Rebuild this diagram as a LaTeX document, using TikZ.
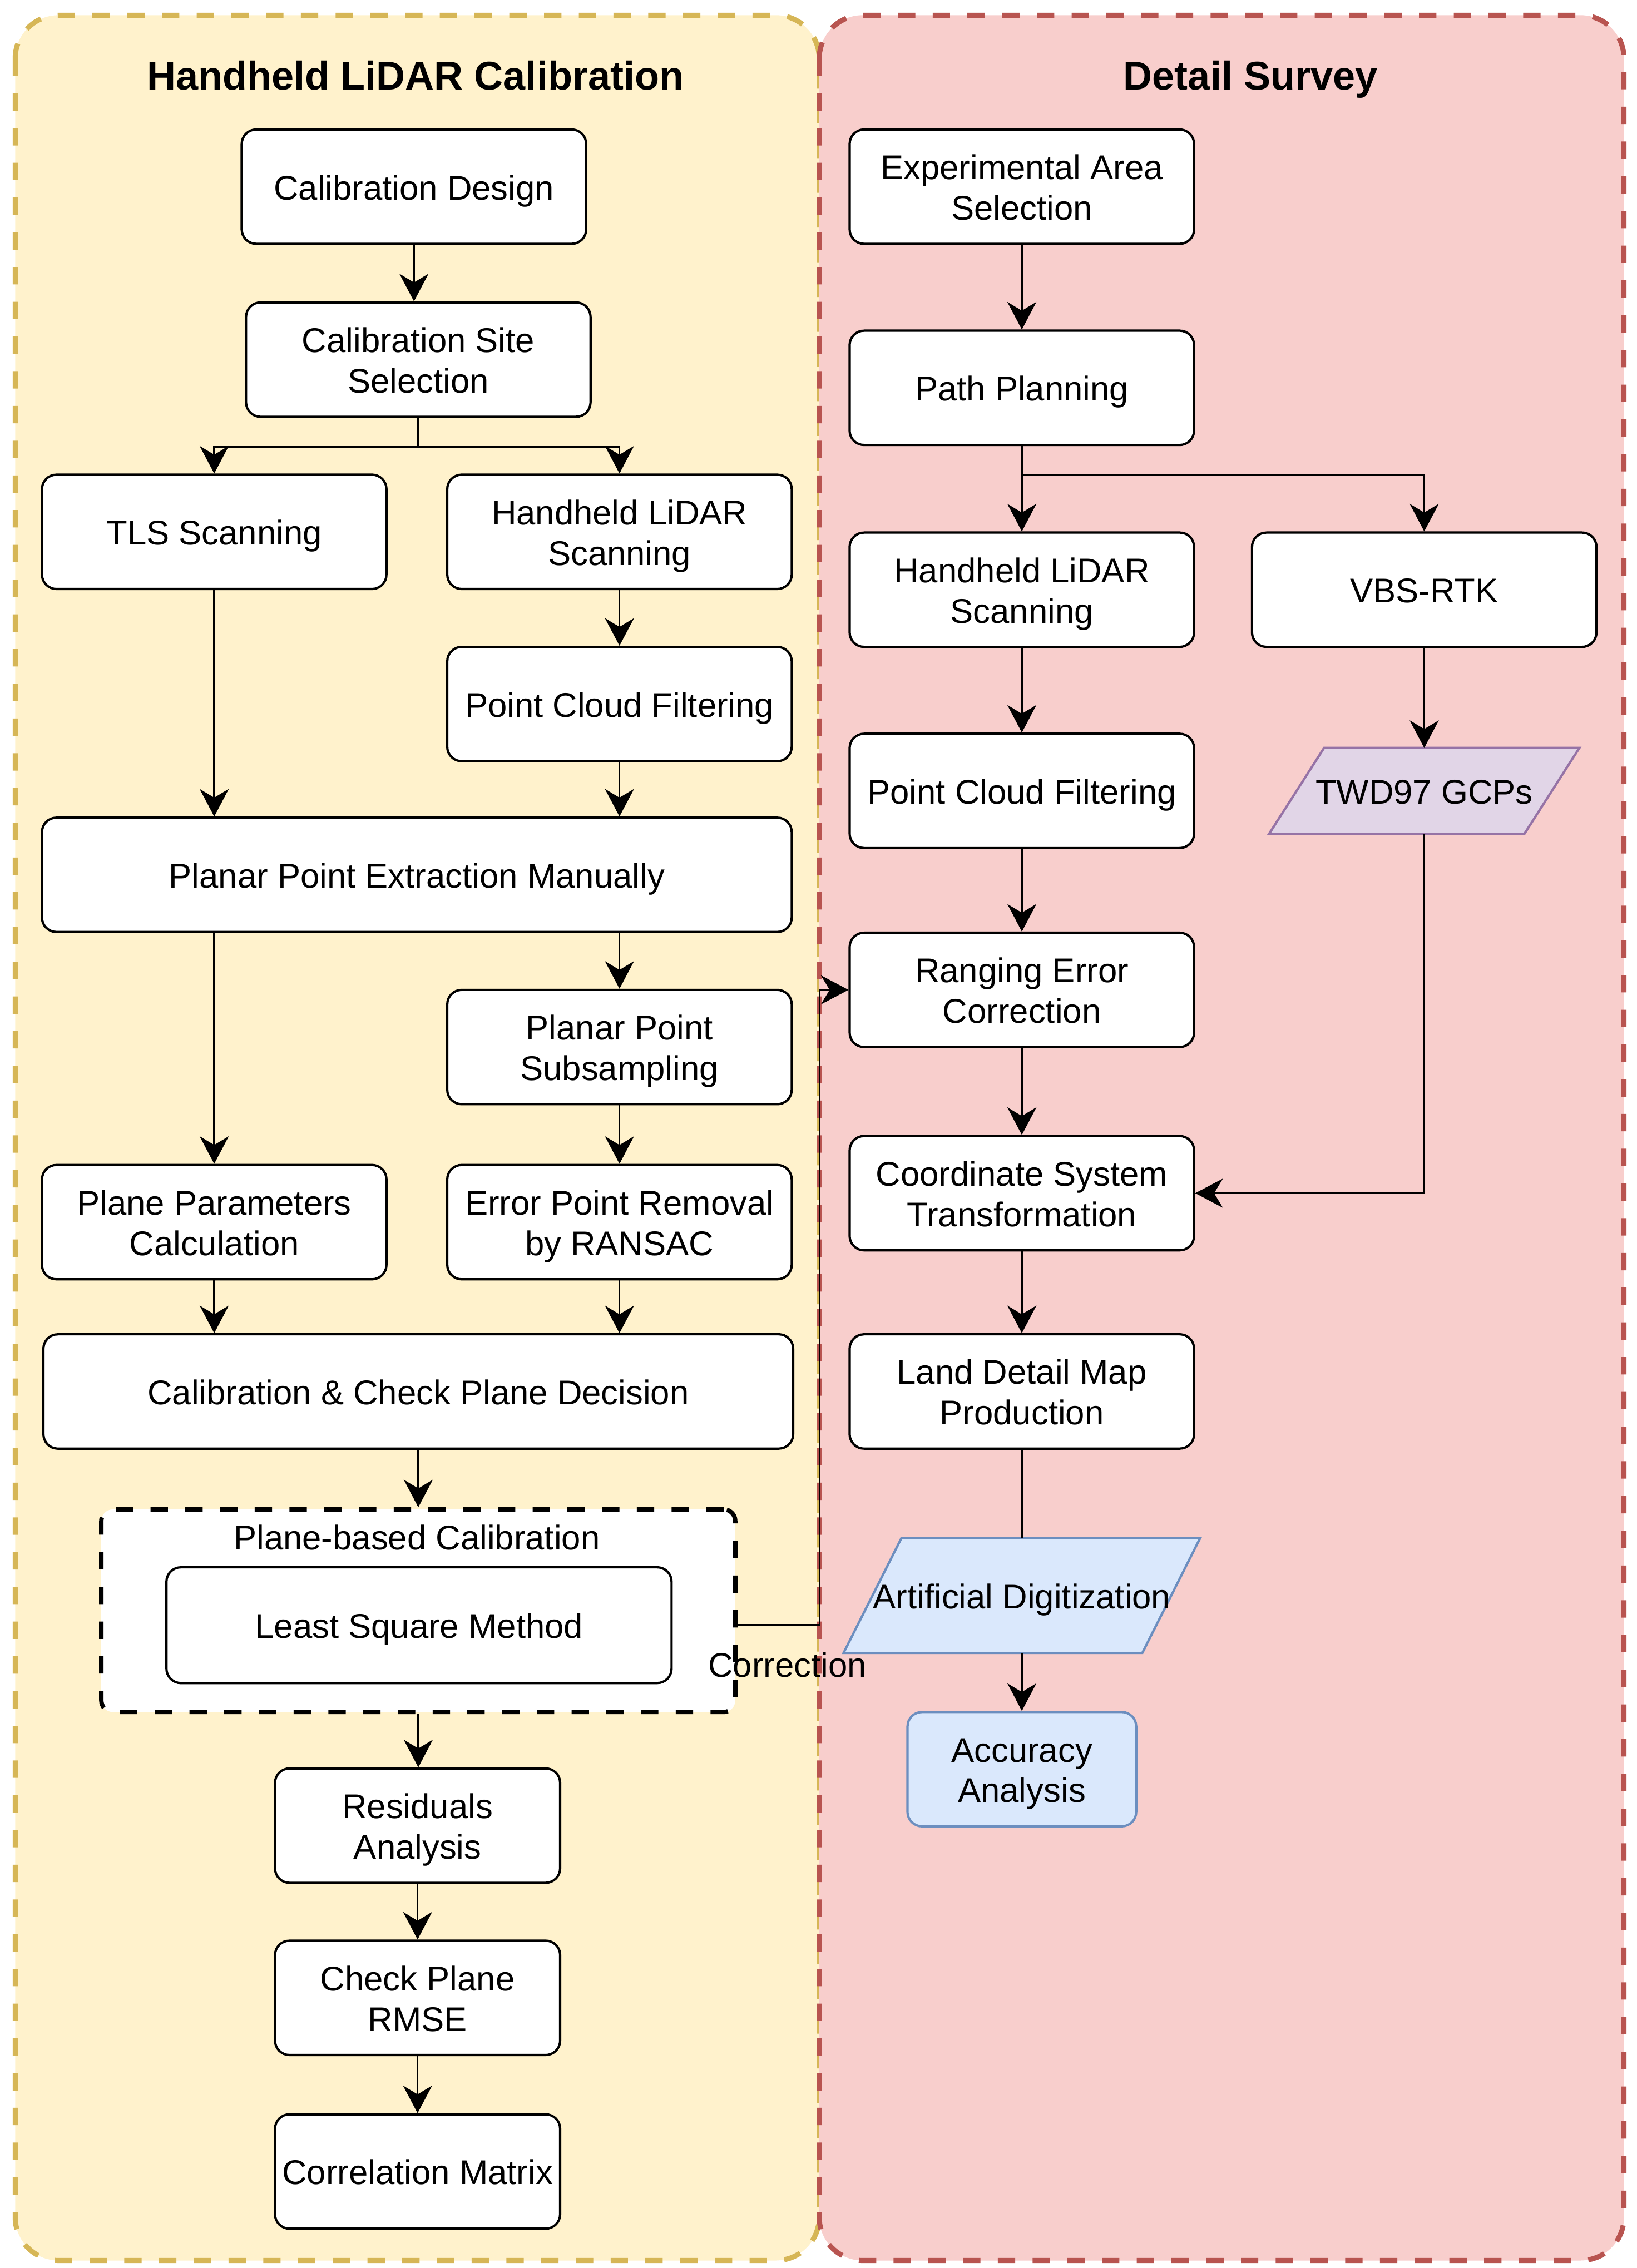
\documentclass[tikz,border=0pt]{standalone}
\usepackage{fontspec}
\setmainfont{Liberation Sans}
\usetikzlibrary{arrows.meta,calc}
\pgfdeclarelayer{back}
\pgfdeclarelayer{bg}
\pgfsetlayers{back,bg,main}
\definecolor{yfill}{HTML}{FFF2CC}
\definecolor{ystroke}{HTML}{D6B656}
\definecolor{rfill}{HTML}{F8CECC}
\definecolor{rstroke}{HTML}{B85450}
\definecolor{pfill}{HTML}{E1D5E7}
\definecolor{pstroke}{HTML}{9673A6}
\definecolor{bfill}{HTML}{DAE8FC}
\definecolor{bstroke}{HTML}{6C8EBF}
\newcommand\bodyfs{\fontsize{23.7pt}{28pt}\selectfont}
\newcommand\titlefs{\fontsize{27.7pt}{33pt}\selectfont\bfseries}
\newcommand\topstrut{\rule{0pt}{24pt}}
\newcommand\botstrut{\rule[-6pt]{0pt}{6pt}}
\newcommand\lbl[1]{\topstrut#1\botstrut}
\tikzset{
  box/.style={draw=black, line width=1.6pt, fill=white, rounded corners=10pt,
    minimum width=238pt, minimum height=79pt, inner sep=0pt, align=center,
    font=\bodyfs},
  widebox/.style={box, minimum width=518pt},
  smallbox/.style={box, minimum width=197pt},
  bluebox/.style={box, fill=bfill, draw=bstroke, minimum width=158pt},
  txtnode/.style={draw=none, fill=none, inner sep=0pt, font=\bodyfs, align=center},
  plainlabel/.style={draw=none, fill=none, inner sep=0pt, font=\bodyfs},
  arr/.style={line width=1.3pt, -{Stealth[length=19pt,width=20pt,inset=6pt]}},
  conn/.style={line width=1.3pt},
  panelY/.style={fill=yfill, draw=ystroke, line width=3.5pt,
    dash pattern=on 12pt off 12pt, rounded corners=30pt},
  panelR/.style={fill=rfill, draw=rstroke, line width=3.5pt,
    dash pattern=on 12pt off 12pt, rounded corners=30pt},
  groupbox/.style={draw=black, fill=white, line width=3pt,
    dash pattern=on 12pt off 12pt, rounded corners=8pt,
    minimum width=438pt, minimum height=140pt, inner sep=0pt},
  pgramP/.style={fill=pfill, draw=pstroke, line width=1.6pt},
  pgramB/.style={fill=bfill, draw=bstroke, line width=1.6pt},
}
\begin{document}
\begin{tikzpicture}[x=1pt,y=-1pt]
\useasboundingbox (0,0) rectangle (1131,1567.2);

% panels
\begin{pgfonlayer}{back}
\draw[panelY] (10.5,10.5) rectangle (566,1562);
\draw[panelR] (566,10.5) rectangle (1122,1562);
\end{pgfonlayer}

% titles
\node[font=\titlefs, anchor=base, inner sep=0pt] (t1) at (287,62) {Handheld LiDAR Calibration};
\node[font=\titlefs, anchor=base, inner sep=0pt] (t2) at (864,62) {Detail Survey};

% left column
\node[box] (cd) at (286,129) {\lbl{Calibration Design}};
\node[box] (cs) at (289,248.5) {\lbl{Calibration Site\\Selection}};
\node[box] (tls) at (148,367.5) {\lbl{TLS Scanning}};
\node[box] (hhl) at (428,367.5) {\lbl{Handheld LiDAR\\Scanning}};
\node[box] (pcfl) at (428,486.5) {\lbl{Point Cloud Filtering}};
\node[widebox] (pe) at (288,604.5) {\lbl{Planar Point Extraction Manually}};
\node[box] (sub) at (428,723.5) {\lbl{Planar Point\\Subsampling}};
\node[box] (ppc) at (148,844.5) {\lbl{Plane Parameters\\Calculation}};
\node[box] (ran) at (428,844.5) {\lbl{Error Point Removal\\by RANSAC}};
\node[widebox] (dec) at (289,961.5) {\lbl{Calibration \& Check Plane Decision}};
\node[groupbox] (cont) at (289,1113) {};
\node[plainlabel, anchor=base] (contlbl) at (288,1071) {Plane-based Calibration};
\node[box, minimum width=349pt, minimum height=80pt] (lsm) at (289.5,1123) {\lbl{Least Square Method}};
\node[smallbox] (res) at (288.5,1261.5) {\lbl{Residuals\\Analysis}};
\node[smallbox] (rmse) at (288.5,1380.5) {\lbl{Check Plane\\RMSE}};
\node[smallbox] (cm) at (288.5,1500.5) {\lbl{Correlation Matrix}};

% right column
\node[box] (eas) at (706,129) {\lbl{Experimental Area\\Selection}};
\node[box] (pp) at (706,268) {\lbl{Path Planning}};
\node[box] (hhr) at (706,407.5) {\lbl{Handheld LiDAR\\Scanning}};
\node[box] (vbs) at (984,407.5) {\lbl{VBS-RTK}};
\node[box] (pcfr) at (706,546.5) {\lbl{Point Cloud Filtering}};
\node[txtnode, minimum width=176pt, minimum height=59pt] (twd) at (984,546.5) {\lbl{TWD97 GCPs}};
\node[box] (rec) at (706,684) {\lbl{Ranging Error\\Correction}};
\node[box] (cst) at (706,824.5) {\lbl{Coordinate System\\Transformation}};
\node[box] (ldm) at (706,961.5) {\lbl{Land Detail Map\\Production}};
\node[txtnode, minimum width=206pt, minimum height=79pt] (ad) at (706,1102.5) {\lbl{Artificial Digitization}};
\node[bluebox] (acc) at (706,1222.5) {\lbl{Accuracy\\Analysis}};

% parallelograms behind their texts
\begin{pgfonlayer}{bg}
\draw[pgramP] ([xshift=19pt]twd.north west) -- ([xshift=19pt]twd.north east)
  -- ([xshift=-19pt]twd.south east) -- ([xshift=-19pt]twd.south west) -- cycle;
\draw[pgramB] ([xshift=20pt]ad.north west) -- ([xshift=20pt]ad.north east)
  -- ([xshift=-20pt]ad.south east) -- ([xshift=-20pt]ad.south west) -- cycle;
\end{pgfonlayer}

% left connectors
\draw[arr] (cd.south) -- (cd.south |- cs.north);
\draw[arr] (cs.south) -- ++(0,20) -| (tls.north);
\draw[arr] (cs.south) -- ++(0,20) -| (hhl.north);
\draw[arr] (hhl) -- (pcfl);
\draw[arr] (tls.south) -- (tls.south |- pe.north);
\draw[arr] (pcfl.south) -- (pcfl.south |- pe.north);
\draw[arr] (pe.south -| sub.north) -- (sub.north);
\draw[arr] (pe.south -| ppc.north) -- (ppc.north);
\draw[arr] (sub) -- (ran);
\draw[arr] (ppc.south) -- (ppc.south |- dec.north);
\draw[arr] (ran.south) -- (ran.south |- dec.north);
\draw[arr] (dec.south) -- (dec.south |- cont.north);
\draw[arr] (cont.south) -- (cont.south |- res.north);
\draw[arr] (res) -- (rmse);
\draw[arr] (rmse) -- (cm);

% correction connector
\draw[arr] (lsm.east -| cont.east) -| ([xshift=-20pt]rec.west) -- (rec.west);
\node[plainlabel, anchor=base] (corrlbl) at (544,1159) {Correction};

% right connectors
\draw[arr] (eas) -- (pp);
\draw[arr] (pp) -- (hhr);
\draw[arr] (pp.south) -- ++(0,20) -| (vbs.north);
\draw[arr] (hhr) -- (pcfr);
\draw[arr] (vbs) -- (twd);
\draw[arr] (pcfr) -- (rec);
\draw[arr] (twd.south) |- (cst.east);
\draw[arr] (rec) -- (cst);
\draw[arr] (cst) -- (ldm);
\draw[conn] (ldm) -- (ad);
\draw[arr] (ad) -- (acc);
\end{tikzpicture}
\end{document}
